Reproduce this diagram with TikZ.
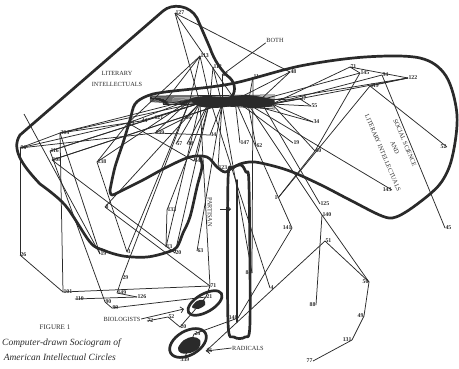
\documentclass[tikz,border=0pt]{standalone}
\usepackage{fontspec}
\setmainfont{Liberation Serif}
\usetikzlibrary{arrows.meta}
\definecolor{ink}{HTML}{2A2A2A}
\newcommand\V[5]{\node[coordinate,label={[lbl]#5:#4}] (#1) at (#2,#3) {};}
\begin{document}
\begin{tikzpicture}[x=1pt,y=-1pt,
  lbl/.style={font=\fontsize{5.8}{6}\selectfont\bfseries, inner sep=0.3pt, text=ink},
  link/.style={draw=ink, line width=0.75pt},
  rim/.style={draw=ink, line width=2.7pt, line join=round, line cap=round},
  grp/.style={font=\fontsize{6.3}{7}\selectfont, text=ink, inner sep=0.5pt},
  captxt/.style={font=\fontsize{9.5}{10}\selectfont\itshape, text=ink, inner sep=0pt}]
\useasboundingbox (0,0) rectangle (459,368);

% ---- vertices: upper cluster
\V{p127}{175}{13}{127}{right}
\V{p113}{200}{56}{113}{right}
\V{p112}{213}{67}{112}{right}
\V{p65}{222}{75}{65}{right}
\V{p91}{163}{104}{91}{right}
\V{p94}{128}{123}{94}{right}
\V{p44}{141}{121}{44}{right}
\V{p121a}{154}{118}{121}{right}
\V{p139}{155}{133}{139}{right}
\V{p86}{185}{118}{86}{right}
\V{p57}{176}{144}{57}{right}
\V{p38}{187}{144}{38}{right}
\V{p34a}{210}{135}{34}{right}
\V{p64}{194}{161}{64}{right}
\V{p123}{218}{168}{123}{right}
\V{p147}{240}{143}{147}{right}
\V{p62}{256}{146}{62}{right}
\V{p11}{253}{77}{11}{right}
\V{p48}{290}{72}{48}{right}
\V{p27}{300}{99}{27}{right}
\V{p55}{311}{106}{55}{right}
\V{p34b}{313}{122}{34}{right}
\V{p19a}{293}{143}{19}{right}
\V{p60}{315}{151}{60}{right}
\V{p71}{350}{67}{71}{right}
\V{p145}{360}{73}{145}{right}
\V{p94b}{382}{75}{94}{right}
\V{p122}{408}{78}{122}{right}
\V{p119}{370}{86}{119}{right}
\V{p52}{447}{147}{52}{left}
\V{p143}{392}{190}{143}{left}
\V{p45}{445}{228}{45}{right}
% ---- vertices: lower right
\V{p1}{278}{198}{1}{left}
\V{p125}{320}{204}{125}{right}
\V{p140b}{322}{215}{140}{right}
\V{p141}{292}{228}{141}{left}
\V{p51}{325}{241}{51}{right}
\V{p50}{369}{282}{50}{left}
\V{p88}{316}{305}{88}{left}
\V{p49}{364}{316}{49}{left}
\V{p131}{352}{340}{131}{left}
\V{p77}{313}{361}{77}{left}
\V{p84}{252}{273}{84}{left}
\V{p4}{270}{288}{4}{right}
\V{p148}{238}{318}{148}{left}
% ---- vertices: left and lower left
\V{p96}{20}{148}{96}{right}
\V{p304}{60}{133}{304}{right}
\V{p116}{50}{151}{116}{right}
\V{p108}{52}{160}{108}{right}
\V{p138}{97}{162}{138}{right}
\V{p8}{105}{207}{8}{right}
\V{p133}{167}{210}{133}{right}
\V{p63}{197}{251}{63}{right}
\V{p13}{166}{247}{13}{right}
\V{p20a}{175}{253}{20}{right}
\V{p119b}{100}{254}{19}{right}
\V{p3}{127}{252}{3}{right}
\V{p26}{20}{255}{26}{right}
\V{p101}{63}{292}{101}{right}
\V{p110}{75}{299}{110}{right}
\V{p90}{105}{302}{90}{right}
\V{p99}{112}{308}{99}{right}
\V{p29}{122}{278}{29}{right}
\V{p149}{117}{293}{149}{right}
\V{p126}{137}{297}{126}{right}
\V{p72}{147}{321}{72}{right}
\V{p52b}{168}{317}{52}{right}
\V{p20b}{180}{327}{20}{right}
\V{p71b}{210}{286}{71}{right}
\V{p21}{206}{297}{21}{right}
\V{p24}{194}{334}{24}{right}
\V{p26b}{206}{351}{26}{right}
\V{p339}{185}{357}{339}{below}
\coordinate (edgeA) at (24,114);

% ---- central hub: a dense bundle
\foreach \n/\x/\y in {h1/190/100,h2/200/103,h3/210/100,h4/222/104,h5/235/100,h6/248/104,h7/260/100,h8/272/104}
  \coordinate (\n) at (\x,\y);
\fill[ink] plot[smooth cycle, tension=0.5] coordinates {(190,99) (205,96) (225,97) (245,95)
  (262,97) (274,100) (272,106) (255,108) (235,106) (215,108) (198,106)};
\foreach \y in {95,97,99,101,103,105,107,109}
  \draw[link] (150,{98+(\y-100)*0.4}) -- (275,\y);

% ---- connectors
\foreach \a/\b in {p127/h2,p127/h5,p127/p48,p113/h1,p113/p94,p113/p91,p113/h3,
  p112/h3,p112/h4,p65/h4,p11/h6,p11/p84,p48/h7,p48/h5,p71/h8,p71/p122,p71/p145,
  p145/h7,p145/p60,p94b/p45,p94b/h8,p122/h8,p122/h6,p122/p119,p119/p52,p119/p1,
  p27/h7,p27/p55,p55/h8,p27/h8,p34b/h8,p34b/h6,p19a/h5,p60/h8,p143/h6,
  p91/h1,p91/h4,p94/h1,p44/h2,p121a/h3,p121a/p116,p86/h2,p86/p139,p139/h1,p139/p96,
  p57/h2,p38/h3,p34a/h4,p34a/p139,p64/h3,p64/p94,p123/h4,p147/h5,p62/h6,
  p1/p60,p125/h7,p140b/p50,p140b/p88,p140b/h6,p141/h5,p141/p148,p51/p50,p51/p26b,
  p50/p49,p49/p131,p131/p77,p84/h4,p4/h3,p96/p304,p96/p26,p96/p94,p304/h1,p304/p44,
  p304/h3,p304/p101,p116/h2,p116/p90,p108/p20a,p108/h4,p138/p94,p138/h1,p8/h2,p8/p71b,
  p133/h3,p133/p13,p63/h4,p13/h2,p119b/edgeA,p119b/p304,p3/h1,p26/p101,p101/p71b,
  p110/p126,p90/p99,p99/p21,p29/p149,p29/h1,p149/p126,p72/p52b,p52b/p20b,p20b/p21,
  p71b/p21,p71b/h2,p24/p148,p108/h5,p3/p138,p20a/h3,p339/p24}
  \draw[link] (\a) -- (\b);

% ---- group outlines
% literary intellectuals
\draw[rim] (40,184) .. controls (25,168) and (10,150) .. (20,135) -- (163,11)
  .. controls (172,3) and (190,5) .. (197,18) -- (210,48)
  .. controls (214,60) and (222,72) .. (230,78) .. controls (236,84) and (236,94) .. (230,98);
% social science and literary intellectuals, running into the partisan loop
\draw[rim] plot[smooth, tension=0.55] coordinates {(110,190) (115,167) (123,143) (130,120)
  (135,104) (147,96) (165,92) (230,84) (300,66) (365,57) (420,58) (446,76) (457,115)
  (452,158) (440,184) (416,205) (396,217) (382,216) (350,200) (319,184) (287,170)
  (255,162) (240,164)};
% lower loop of the literary group
\draw[rim] plot[smooth, tension=0.55] coordinates {(40,184) (65,205) (90,242) (103,250)
  (123,256) (147,257) (168,252) (177,247) (183,233) (190,217) (197,187) (202,167) (200,157)};
\draw[rim] plot[smooth, tension=0.55] coordinates {(110,190) (112,195) (123,190) (143,180)
  (167,167) (190,157) (207,157) (217,167) (225,172) (232,168) (240,164)};
% partisan
\draw[rim] plot[smooth cycle, tension=0.5] coordinates {(228,180) (233,168) (241,165)
  (246,172) (249,185) (250,322) (245,337) (234,337) (228,322)};
\draw[rim, line width=1.6pt] (237,180) -- (237,322);
% biologists and radicals
\draw[rim] (205,303) ellipse [x radius=19, y radius=9, rotate=30];
\fill[ink] plot[smooth cycle] coordinates {(192,307) (197,301) (204,300) (205,305) (198,309)};
\draw[rim] (188,343) ellipse [x radius=20, y radius=12, rotate=30];
\fill[ink] plot[smooth cycle, tension=0.6] coordinates {(178,348) (184,340) (193,337) (200,340)
  (199,348) (190,353) (181,353)};

% ---- group names
\node[grp] at (117,73) {LITERARY};
\node[grp] at (117,84) {INTELLECTUALS};
\node[grp] (both) at (275,40) {BOTH};
\draw[link] (both.south west) -- (p65);
\node[grp, rotate=-90] at (210,212) {PARTISAN};
\draw[link, -{Straight Barb[length=3pt]}] (220,209) -- (231,209);
\node[grp, rotate=-67] at (383,153) {LITERARY INTELLECTUALS};
\node[grp, rotate=-67] at (395,148) {AND};
\node[grp, rotate=-67] at (405,143) {SOCIAL SCIENCE};
\node[grp] (bio) at (122,319) {BIOLOGISTS};
\draw[link, -{Straight Barb[length=3pt]}] (bio.east) -- (184,309);
\node[grp] (rad) at (248,348) {RADICALS};
\draw[link, -{Straight Barb[length=3pt]}] (rad.west) -- (p26b);

% ---- caption
\node[font=\fontsize{7}{8}\selectfont, text=ink] at (55,327) {FIGURE 1};
\node[captxt, anchor=east] at (121,343) {Computer-drawn Sociogram of};
\node[captxt, anchor=east] at (116,357) {American Intellectual Circles};
\end{tikzpicture}
\end{document}
